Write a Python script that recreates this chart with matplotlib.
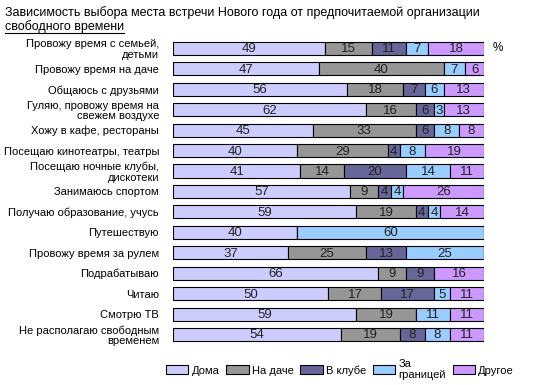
import numpy as np
import matplotlib
matplotlib.use('Agg')
import matplotlib.pyplot as plt
from matplotlib.patches import Patch
from matplotlib.lines import Line2D

plt.rcParams['font.family'] = ['Liberation Sans', 'DejaVu Sans']

categories = ['Провожу время с семьей,\nдетьми', 'Провожу время на даче', 'Общаюсь с друзьями',
              'Гуляю, провожу время на\nсвежем воздухе', 'Хожу в кафе, рестораны',
              'Посещаю кинотеатры, театры', 'Посещаю ночные клубы,\nдискотеки', 'Занимаюсь спортом',
              'Получаю образование, учусь', 'Путешествую', 'Провожу время за рулем',
              'Подрабатываю', 'Читаю', 'Смотрю ТВ', 'Не располагаю свободным\nвременем']
series = ['Дома', 'На даче', 'В клубе', 'За\nграницей', 'Другое']
doma = [49, 47, 56, 62, 45, 40, 41, 57, 59, 40, 37, 66, 50, 59, 54]
dacha = [15, 40, 18, 16, 33, 29, 14, 9, 19, 0, 25, 9, 17, 19, 19]
club = [11, 0, 7, 6, 6, 4, 20, 4, 4, 0, 13, 9, 17, 0, 8]
abroad = [7, 7, 6, 3, 8, 8, 14, 4, 4, 60, 25, 0, 5, 11, 8]
other = [18, 6, 13, 13, 8, 19, 11, 26, 14, 0, 0, 16, 11, 11, 11]
colors = ['#CCCCFF', '#969696', '#666699', '#99CCFF', '#CC99FF']

data = [doma, dacha, club, abroad, other]

fig = plt.figure(figsize=(5.53, 3.85), dpi=100)
ax = fig.add_axes([0.3128, 0.1047, 0.5624, 0.796])

y = np.arange(len(categories))
left = np.zeros(len(categories))
for vals, col in zip(data, colors):
    vals = np.array(vals, dtype=float)
    ax.barh(y, vals, left=left, height=0.64, color=col, edgecolor='black', linewidth=0.8)
    for yi, l, v in zip(y, left, vals):
        if v > 0:
            ax.text(l + v / 2, yi + 0.05, '%d' % v, ha='center', va='center', fontsize=9.5,
                    color='#222222', stretch='condensed')
    left += vals

ax.set_xlim(0, 100)
ax.set_ylim(len(categories) - 0.5, -0.5)
ax.set_yticks(y)
ax.set_yticklabels(categories, fontsize=8, linespacing=1.05)
ax.tick_params(axis='y', length=0, pad=10)
ax.set_xticks([])
for s in ax.spines.values():
    s.set_visible(False)

ax.text(104.5, 0, '%', ha='center', va='center', fontsize=8.5)

fig.text(0.009, 0.968, 'Зависимость выбора места встречи Нового года от предпочитаемой организации',
         fontsize=9, va='center')
t2 = fig.text(0.009, 0.932, 'свободного времени', fontsize=9, va='center')
fig.canvas.draw()
bb = t2.get_window_extent().transformed(fig.transFigure.inverted())
fig.add_artist(Line2D([bb.x0, bb.x1], [bb.y0 - 0.001, bb.y0 - 0.001], color='black', lw=0.8,
                      transform=fig.transFigure))

handles = [Patch(facecolor=c, edgecolor='black', linewidth=0.8) for c in colors]
fig.legend(handles, series, loc='center', bbox_to_anchor=(0.615, 0.04), ncol=5, frameon=False,
           fontsize=8, handlelength=2.0, handleheight=0.8, handletextpad=0.3, columnspacing=0.6)

fig.savefig('out.png', dpi=100)
